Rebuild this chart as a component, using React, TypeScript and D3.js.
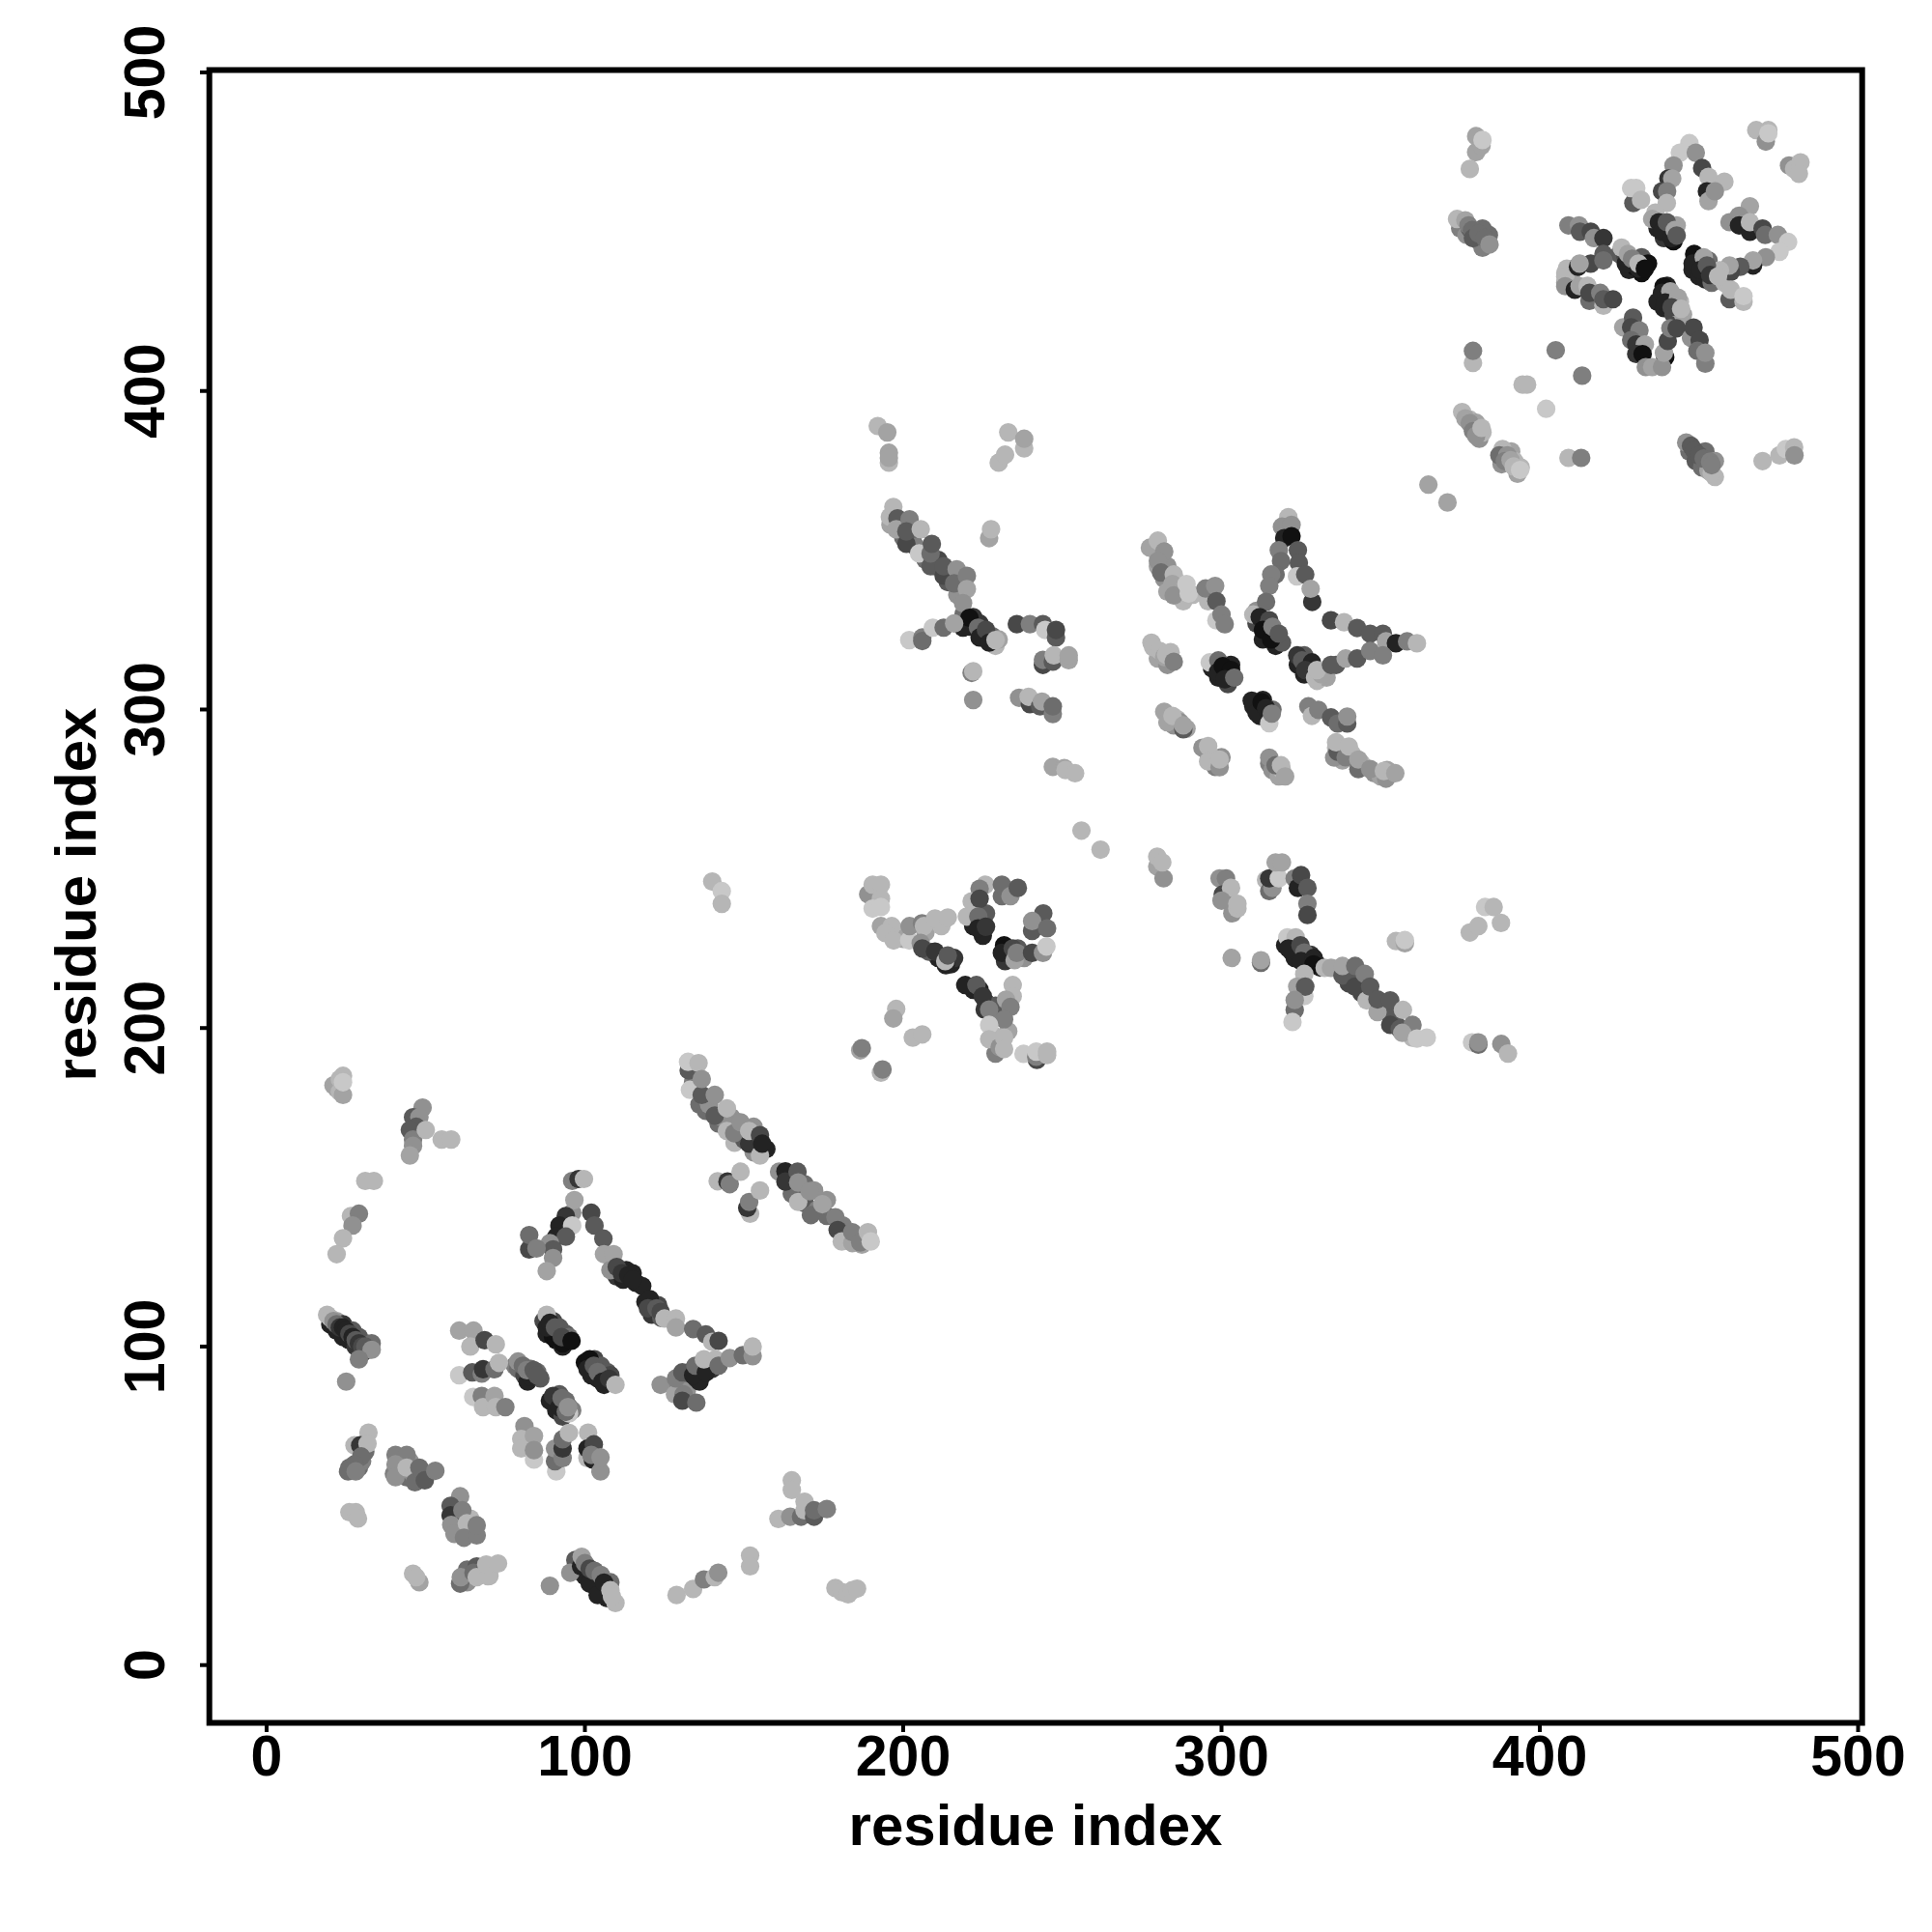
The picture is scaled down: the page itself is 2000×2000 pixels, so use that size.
import React from "react";
import * as d3 from "d3";

type P = [number, number, number];

const xTicks = [0, 100, 200, 300, 400, 500];
const yTicks = [0, 100, 200, 300, 400, 500];
const axisLabel = "residue index";

const bandsFirst: P[] = [
  [20,107,9],[22,105,9],[24,103,9],[26,102,9],[28,100,8],[30,98,7],[22,108,2],[24,107,8],[27,105,6],[29,103,6],[31,101,6],[32,99,7],[33,101,5],
  [87,108,7],[88,104,9],[90,103,10],[91,102,10],[93,100,9],[90,108,7],[92,106,6],[94,104,6],[95,103,5],
  [100,95,10],[102,91,9],[104,90,9],[106,88,9],[103,96,7],[105,94,6],[107,92,6],[108,91,7],
  [78,94,4],[79,93,5],[81,91,7],[82,89,9],[83,93,5],[85,92,5],[86,90,6],
  [89,83,9],[91,80,9],[93,78,7],[92,85,6],[94,83,5],[95,81,5],[96,80,4],
  [109,126,8],[110,122,8],[112,121,9],[113,124,9],[115,123,9],[116,120,9],[118,119,9],
  [119,114,9],[120,112,9],[121,110,8],[123,113,7],[124,109,6],
  [134,183,4],[136,176,5],[138,174,5],[139,176,3],[142,170,5],[143,172,3],[146,172,3],[147,164,1],[150,165,6],[153,161,3],[153,169,3],[157,162,9],[165,152,9],[165,148,5],[169,151,5],[169,145,6],[172,149,3],[173,143,4],[176,146,3],[176,141,5],[181,138,4],[182,134,2],[185,133,2],[187,132,2],[189,134,1],
  [40,60,4],[42,60,4],[44,59,5],[46,60,3],[42,64,1],[45,64,3],[60,44,4],[59,47,8],[62,42,4],[65,42,4],[64,46,1],
  [63,26,3],[63,30,5],[66,31,6],[70,28,1],[97,33,6],[99,29,9],[100,28,9],[102,27,9],[103,25,9],[105,26,8],[106,23,9],[107,21,9],[108,26,5],
  [29,62,5],[30,64,4],[26,62,5],[31,67,5],[129,88,4],[131,87,5],[132,86,3],[135,90,8],[136,89,9],[139,94,8],[140,93,8],[133,92,7],
];
const bandsMiddle: P[] = [
  [196,358,2],[199,357,6],[200,354,5],[203,353,5],[204,351,4],[207,347,5],[210,345,6],[211,347,7],[214,340,6],[215,342,6],[217,336,3],[219,330,5],[221,326,9],[222,329,8],[224,327,8],[226,323,9],[228,323,5],[229,320,1],[230,322,2],
  [199,230,1],[200,228,2],[207,230,2],[212,232,1],[215,220,9],[216,222,8],[211,222,9],[208,224,6],[224,234,6],[226,236,6],[222,232,9],[225,229,9],[233,223,8],[232,221,8],[236,225,6],[238,222,3],[222,212,9],[224,212,9],[226,208,8],[228,204,3],[229,207,6],[233,199,2],[228,198,1],[229,192,4],[242,190,7],
  [320,226,9],[322,224,9],[323,222,9],[327,220,9],[328,223,8],[330,220,10],[331,219,9],[340,214,7],[343,215,6],[344,211,7],[347,210,7],[350,207,7],[352,205,6],[354,204,6],[355,201,6],[358,199,3],[360,197,1],
  [297,313,9],[299,310,9],[301,311,10],[302,308,7],[303,314,9],[310,301,9],[312,298,9],[314,298,9],[313,303,9],[316,300,5],
  [311,327,7],[311,331,3],[313,322,9],[315,325,9],[317,320,9],[319,321,6],[317,324,5],[326,317,6],[324,314,9],[326,311,9],[328,311,9],[330,309,1],[333,310,2],[336,314,6],
  [280,345,2],[282,341,3],[283,337,2],[287,336,2],[280,349,2],[283,345,3],[286,340,2],[288,334,1],[291,336,1],
  [278,321,1],[280,316,2],[283,314,3],[284,318,1],[286,297,1],[287,296,3],[285,295,3],[289,294,2],[296,286,4],[298,282,4],[300,285,3],[297,285,1],
  [315,283,4],[316,281,3],[318,279,2],[319,281,1],[336,288,1],[338,284,2],[341,286,1],[344,283,1],[348,280,3],[350,279,2],[352,281,2],
];
const bandsThird: P[] = [
  [375,451,4],[377,449,3],[378,451,6],[381,447,6],[382,445,4],[384,449,5],[382,451,5],
  [378,391,1],[380,390,2],[381,385,3],[382,387,1],[388,377,3],[391,381,2],[392,378,1],[393,374,2],[394,376,1],
  [447,381,5],[449,378,6],[451,376,5],[453,375,2],[452,381,5],[455,373,1],[455,378,3],
  [437,451,9],[439,448,8],[442,447,10],[440,451,4],[443,452,2],
  [425,443,6],[427,442,7],[428,438,9],[430,439,10],[432,442,6],[434,440,10],[432,437,10],
  [448,438,9],[450,436,9],[452,435,9],[454,434,5],[449,441,10],[453,441,5],[455,437,5],[458,434,1],
  [437,428,9],[439,426,9],[442,424,7],[440,433,9],[444,428,1],[445,424,2],[443,426,2],[408,437,1],[410,437,2],[408,434,2],
];
const lowerLeftFar: P[] = [
  [21,182,2],[22,181,2],[23,180,1],[24,179,2],[23,184,1],[24,185,1],[24,183,0],
  [49,175,3],[46,172,6],[48,172,3],[47,169,6],[45,168,6],[46,165,4],[46,163,3],[45,160,2],[50,168,1],[55,165,1],[58,165,1],
  [31,152,1],[33.7,152,1],[26.5,141,1],[29,141.7,4],[27,138,3],[24,134,1],[22,129,1],
  [19,110,1],[20,109,1],[21,108,3],[22,107,5],[23,106,8],[24,106,9],[25,105,9],[26,104,7],[27,103,9],[28,102,6],[29,101,8],[30,100,7],[31,100,6],[33,99,3],[29,96,4],[25,89,3],
];
const lowerLeftBottom: P[] = [
  [32,73,1],[27.6,69,1],[29.4,69,8],[31.7,69.5,1],[29.7,65.5,5],[27.6,63,5],[25.6,60.8,5],[28,60.8,4],
  [40.5,66,4],[44,66,4],[40.5,63,3],[40.5,59,3],[44,62,1],[46.6,57.4,5],[48,62,5],[49.7,58,6],[53,61,4],
  [60.8,53,3],[57.8,50,6],[57.8,47,8],[61.5,48.6,4],[58,44,3],[59,41.2,3],[62.9,44.5,1],[62,40,4],[66,40.7,4],[66,43.9,4],
  [26,48,1],[28,48,1],[28.7,46,1],
  [48,26,2],[46,28.7,1],[47,27.6,1],
  [60.8,25.6,5],[61,27.6,3],[65,29,5],[68.7,29.6,7],[66,27.6,1],[69.6,27.9,1],[69,31.6,1],[72.7,31.9,1],
  [89,24.9,3],[95.4,29,3],
  [98.8,31,9],[101.5,25.6,9],[104,22,9],[99,34,2],[100,32,4],[101.5,30.3,7],[103,29.6,5],[105,28.3,4],[106,25.9,9],[108,23.5,1],[109.6,19.5,1],[108.5,21.5,1],
  [128.8,22,1],[134,23.9,1],[137.4,26.9,4],[140.8,27.6,1],[141.9,29,3],[151.9,34.4,1],[151.9,31,1],
  [178.7,24.2,1],[180.7,22.9,1],[182.7,22.2,1],[184,23.5,1],[185.5,24,1],
  [165,58,1],[165,55,1],[160.8,45.9,1],[164.5,46.6,3],[167.9,46.6,5],[169,51.3,1],[169,48.6,1],[172,46.6,6],[172,48.6,5],[176,49,4],
];
const firstDomainStar: P[] = [
  [60.5,105,2],[65,105,2],[64,100,1],[68.5,102,7],[72,100.7,1],
  [60.5,91,0],[64.6,91.9,6],[67.6,91.5,4],[68,92.9,8],[71.6,92.9,5],[73,94.9,1],
  [64.9,84.2,0],[67.6,84.5,4],[68,81,1],[71.6,84.5,2],[72,81,1],[75,81,4],
  [79,95.3,3],[80.5,94,5],[83,90.5,9],[81.8,92.6,4],[83.9,92.6,6],[85,91,6],
  [88,110,1],[88,106,9],[89,107.5,9],[90.6,106,6],[93,101,10],[92.7,103,7],[95.8,101.8,10],
  [101.5,96,10],[100.8,93,9],[102.8,94,6],[104,92,5],[105.5,89,9],[107.6,89.9,8],[109.6,88,1],
  [90,84.5,8],[92,81,9],[92.7,83.8,5],[95,79,0],[94,79.5,5],[94.7,81,3],
  [81,75,3],[80,71,1],[84,71.9,2],[80,68,1],[84,64.5,0],[84,67.5,3],
  [91,60.8,0],[90.6,64,5],[90.6,68,3],[93,65,4],[93,68,8],[93,70.9,5],[95,72.9,1],
  [101,73,1],[100.8,65,1],[100.8,68,9],[102.8,69.3,7],[102.5,64.5,9],[102,66,4],[104.9,60.8,3],[104.9,65.2,3],
];
const firstDomainArms: P[] = [
  [96,152,4],[98,152.6,8],[99.7,152.6,1],[96,142,3],[96.7,146,2],[94,141,8],[92,138,9],[96,138,0],[91,134.5,9],[94,134.5,6],
  [89,132.5,3],[90,130.5,6],[82.5,130.5,7],[82.5,135,5],[84.8,130.8,4],[90,127.8,3],[88,123.7,2],
  [102,142,7],[103,138,6],[105.8,133.9,6],[106,129,2],[109,129,2],[108,124,3],[110,125,7],[111.6,123,8],[113.6,122.4,9],[115,121,9],
  [120.4,114.9,9],[119.8,112,7],[122.5,112,6],[123.8,110.9,7],[125,108.8,1],[128.6,108.8,1],[128.6,106,2],[134,105.5,5],[138,103.8,6],[140,101.5,1],[142,101.8,7],
  [123.8,88,3],[128.3,85,2],[131,85,4],[130.6,83,7],[135,82.4,5],[128.6,90,4],[130.6,91.9,6],[134,91,9],[134.7,94,5],[138,91.9,9],[137.4,96,1],[141,96,1],[142,94,5],[145.5,96.4,3],[149.6,97.3,5],[152.7,97,3],[152.7,100,1],
];
const secondDiagonal: P[] = [
  [132.6,186.7,6],[133,180.6,0],[132.4,189.4,0],[135.7,189,1],[136.7,179,6],[136.7,184,3],[140.8,172.5,6],[140.8,179,3],[144.6,167.7,1],[144.6,174.8,1],[146.9,167,4],[148.9,170.4,3],[151.6,163.7,8],[151.6,167.7,1],[155,160,1],[155,166.4,7],[155.7,163.7,9],
  [141.7,151.9,1],[144.8,151.8,8],[145.5,151,4],[148.9,154.9,1],[151.9,141.7,1],[151,143.5,8],[151.6,145.4,4],[155,149,1],
  [161,154.9,3],[163,155,9],[163,151.8,8],[166.8,154.9,6],[167,145.4,1],[167,151.5,3],[170.6,148.8,3],[171,141.3,5],[174.6,144.7,2],[178.7,140.6,4],[179.4,136.6,7],[180.7,133,1],[184,132.5,2],[184,135.9,4],[186.5,132.7,4],[188.9,135.9,1],[189.8,133,0],
  [186.5,193,2],[187,193.7,4],[193,186,1],[193.5,187,4],[197.8,206,1],[196.9,203,2],[203,197,1],[206,198,1],
  [140,246,1],[143,243,0],[143,239,1],
];
const middleLoop: P[] = [
  [189,242,3],[190.4,245,1],[193,245,1],[193,240.6,1],[190.4,237.5,0],[193,238,0],
  [193,232,2],[196.4,232,1],[194.4,229.8,1],[197,227.5,1],[201.9,227.5,0],[202,232,3],[205.9,232.9,4],[206.5,232,1],[210,234.4,1],[214,234.7,1],[205.5,226.7,3],[206,225,7],[210,224,8],[213.4,219.7,9],[213.2,221,1],[214,222.8,6],
  [225.8,245,1],[224,243.7,4],[221.5,239.8,1],[224,240.6,7],[220,235,1],[223.6,235,5],[223.5,231.3,9],[226,231.8,8],
  [231,241.4,5],[231,245,5],[233.7,241.4,3],[236,244,6],
  [244,236,6],[240.5,230.5,6],[240.5,233.6,3],[245.2,231.3,5],
  [231.7,226,10],[231,223.6,9],[234.4,225,7],[235,221.3,2],[235.7,223.6,4],[240.5,223.6,7],[243.9,223.6,3],[245,225.6,0],
  [219.5,213.5,9],[223,213.5,6],[225,210,8],[225.6,205.8,8],[227,205.8,4],
  [234.4,213.5,1],[234.4,210,1],[232.3,208.9,2],[233.7,206.6,4],[231.7,202.7,4],[227,201,0],[227,196.5,1],[230.3,194,3],[231.7,197,1],[231.7,193.4,1],
  [237.8,191.9,0],[241.8,191,4],[241.8,192.6,0],[245.2,191.5,1],[245.2,192.6,1],
];
const upperMiddle: P[] = [
  [192,389,1],[195,387,2],[195.5,377.5,1],[195.5,380.6,2],[195.5,379,2],
  [233,387,1],[238,382,1],[238,385,2],[230,377.5,1],[232,380,1],
  [227,353.8,2],[227.6,356.6,1],
  [195.8,360.5,1],[196.9,363.6,1],[198.2,360,6],[197.8,356.6,2],[202,359.7,4],[201,352,7],[201,355.9,6],[205,349,0],[205.5,356.6,1],[208.6,345,6],[208.6,349,5],[209,352,6],[212.7,342,7],[212.7,345,6],[216.8,344,3],[216,339.6,5],[220,342,4],[220,337.8,2],[218.8,333.4,3],
  [217.5,327,5],[218.8,325.7,9],[220.8,328.8,10],[223.5,325.7,5],[224,322.6,9],[226,325,7],[227,321,9],[229,321.8,1],
  [201.9,321.8,0],[206,322.6,4],[206,321.5,5],[209.3,325.7,0],[212.7,325.7,5],[216,327,2],
  [235.7,326.8,7],[239.8,326.8,4],[243.9,326.8,6],[244.6,325,0],[248,322.6,6],[248,325,7],[243.9,314,7],[243.9,315.6,4],[247,315,6],[247.3,317,1],[252,315.5,2],[252,317,2],
  [221.5,311.5,4],[222,312,1],[222,303,3],
  [236.4,303.7,3],[239.8,301.7,7],[239.4,304,1],[243,301,6],[243.6,302.5,2],[247,298.6,4],[247,301,5],
  [247,282,2],[250.6,281.6,2],[251,281,1],[254,280,1],[256,262,1],[262,256,1],
];
const secondStar: P[] = [
  [277.5,350.8,2],[280,353,1],[282,349.6,3],[280,346.6,3],[281,343,5],[285,342.4,1],[284.6,339.4,2],[285,335.8,3],[289.7,336.4,0],[289,339.4,0],
  [295.8,334,1],[295,338,4],[298,338.8,3],[298.4,334,6],[298.4,328,0],[300,329.8,4],[301,326.8,4],
  [321,360.4,1],[319,357.4,3],[322,358,3],[319.7,353.8,9],[322,354.4,10],[318,350,4],[324,350,6],[318.7,346.6,5],[324.3,346,6],[323.7,341.8,0],[326.3,342.4,6],[317,342.4,5],[315.6,342.4,4],[315,338.8,4],[328.5,333.8,8],[328,337.9,2],[314,333.8,5],
  [310,329.8,1],[312,329,9],[315,328,7],[313,325,10],[315.6,322,10],[316,326,4],[318,323.8,6],
  [334.4,328,7],[338.5,327.4,1],[342.6,325.6,6],[346.7,323.8,6],[350.7,323.8,6],[351.7,321.4,2],[354.8,320.8,9],[358.3,321.4,4],[361.4,320.8,1],
  [323.8,317,8],[325.3,315.4,6],[328.4,314.8,9],[326.3,312.4,8],[329.4,310,1],[331.4,311,2],[330,312.4,1],[334.4,314,6],[339,316,2],[342.6,316,6],[346.7,318.4,4],[350.7,317,4],
  [278.5,319.6,1],[280.6,318.4,1],[282,316.5,2],[282.6,317.2,1],[285,315,4],
  [296.3,314.8,0],[299,315.4,5],[298.9,311.8,9],[300.4,313.6,10],[303,312.4,10],[301,309.5,9],[304,310,5],
  [309.5,302.8,9],[311,299,9],[312.6,302.3,10],[314,300.4,9],[315,295.7,0],[315.8,298.7,4],
  [282,299.3,2],[283,296,2],[284.6,298,1],[288,293.8,6],[288,295,2],
  [294,288,3],[295.8,288.5,1],[295.8,283.7,1],[299.4,281.9,3],[299.4,284.3,1],
  [315,284.9,3],[317,282.5,5],[318.7,282.5,1],[320,279,2],
  [327.3,301,4],[328.4,298,1],[330.4,299.9,4],[334.4,297.5,6],[336.5,295.6,5],[339.5,295.6,6],[339.5,297.8,3],
  [335.4,284.9,3],[336.5,286.7,6],[336,289.7,1],[339,285,4],[340,288.4,1],[343,281.3,5],[343,284.3,2],[346.7,281.3,3],[351.7,278.3,3],[351,280.7,1],[354.6,280,2],
];
const lowerRightStar: P[] = [
  [279.8,250.7,2],[281.8,247,3],[279.8,253.8,1],[281.4,252,1],
  [299.4,247,3],[301.4,247,4],[300.4,242,7],[303,244,1],[300,240,3],[303.4,236,3],[305,237.5,1],[305,239,1],
  [314,246.5,1],[315,243,5],[316,244,3],[315,247,8],[318,247,0],[317,252,2],[319,252,2],
  [323,247,4],[324,244,9],[325,248,7],[327,244,6],[327,239,4],[327,235.5,7],
  [303.2,222,2],[312.4,220.5,5],[312.4,221.3,2],
  [320.7,228.5,0],[323.3,228.5,1],[321,225,9],[324.8,226,7],[326,223.7,5],[325,221,9],[329,222,9],[328.9,220,10],
  [326,217,1],[323.8,213,2],[326,210,0],[326.3,213,6],[323,205.7,5],[323,208.8,3],[322.3,201.9,0],
  [332.4,218.9,1],[334.4,218.9,2],[338,216.5,6],[338,219.5,2],[342,213,7],[342,219.5,5],[345,217,4],[345.6,208.7,1],[346.7,213,6],[349,205,2],[349,209,6],[353,201,7],[353,208.7,6],[356,199.7,6],[357,205.7,1],[360,201,4],[356.8,198.5,2],[361.4,196.7,0],[364.5,197,0],
  [378.7,195.5,0],[380.7,194.8,5],[380.7,195.5,3],[387.9,195,3],[390,192,1],
  [354.8,227.3,1],[357.6,226.6,2],[357.6,227.6,0],
  [378,230,1],[380.7,232,1],[382.8,238,0],[385.5,238,1],[387.8,233,1],
];
const thirdFlanks: P[] = [
  [380,480,2],[380,475,2],[381.7,477,2],[382,478.8,0],[378,469.7,1],
  [374,454,1],[376.6,453.6,2],[377.6,452,4],[378.7,450.5,5],[379,448,6],[380.7,449.5,5],[382.7,448,5],[384.2,446,3],
  [379,408.8,1],[379,412.6,4],[405,412.8,4],[413.3,404.8,4],[394.6,402,1],[396,402,1],[402,394.4,0],
  [375.6,393.4,1],[376.6,391.4,2],[378,389.9,3],[379,387.4,4],[380,386,3],[381.7,388.4,1],
  [388.3,381.8,1],[387.3,379.8,5],[389.8,379.8,3],[389,378,4],[390.8,378.3,2],[391.8,376.3,1],[393.8,375.2,0],
  [365,370.6,2],[371,365,2],[409,379,1],[413,379,4],
  [446,383.8,3],[447.5,382.8,6],[448.5,381.3,6],[450,379.8,6],[451.5,378.8,5],[454,374.2,1],[453.5,377.8,4],[454,376.7,4],
  [470,378,1],[475.3,379.8,1],[477.3,381.8,0],[479.9,382.3,1],[480,379.8,3],
  [468,481.9,1],[471,478.3,3],[471.8,481.9,1],[471.8,480.9,0],
  [478.3,470.8,3],[479.9,469.7,1],[481.9,471.8,1],[481.4,468.2,1],
];
const thirdCross: P[] = [
  [447,477.8,0],[444,474.8,0],[449,474.8,3],[442,470.8,3],[451,470,7],[440.4,466.7,8],[441.6,466.7,2],[453,467.2,1],[458,465.7,1],[438.4,462.7,7],[440,462.7,4],[452.5,462.7,9],[453,459.6,2],[455,462.7,3],[439.9,459,1],
  [429.4,459,6],[428.7,463.7,0],[430.3,463.7,0],[431.8,460,1],[436.3,456,1],[435.3,454,2],[437.4,453,9],[438.4,450,9],[439.9,453,6],[441.4,448,9],[442.4,450.5,2],[443,448.8,6],
  [466,458,2],[459.6,453,3],[462.6,455,3],[462.6,452,9],[466,450,9],[466,453,1],[470,451,7],[470.8,449,5],[474.8,449,3],[478,446.8,0],[475.3,443.7,0],[471,442,3],[467,439.4,9],[467,441,2],[463,439,6],[460,437.4,7],[459.6,439.4,2],[456.6,437.9,1],
  [448.5,443,10],[448,440,9],[451.5,442,2],[450.5,438,9],[452.5,439.4,6],[453.5,436.4,8],[456,436,1],[459.6,428.8,6],[460,431.8,1],[464,428,1],[464,429.8,0],
  [409,452,4],[412.3,452,3],[412.6,450,6],[416,450,7],[417,448,3],[420,448,8],[420,443,6],[416,440,7],[420,441,5],[425.7,445,1],[427,440,9],[427.7,443,2],[429,441.5,4],[431,438.5,9],[431,440,1],[433,438.4,10],
  [408.5,438.4,1],[408,435.9,1],[408,432.9,3],[412,439,9],[412.5,440,2],[411,431.8,9],[412.5,432.9,2],[415,433,1],[415.6,428.3,5],[415.6,430.8,7],[419,430.8,4],[420,426.8,1],[420,428.8,6],[423,428.8,7],
  [438.9,432.8,10],[438.4,430.8,9],[441,431.3,2],[439.4,427.8,9],[443.4,429.3,2],[441.4,426.3,7],[444.4,425.8,1],
  [426.2,420,2],[429.3,423,6],[428.7,420,7],[431.3,419,4],[428.7,416,5],[430.3,414.6,8],[433,414.6,2],[430.3,411.6,8],[432.3,411.6,10],[439.4,410.6,10],[433.3,407.5,3],[435.3,407.5,2],[438.4,407.5,3],[439,412,2],[440.2,415.7,7],[441,419.7,4],[443,419.7,7],[447.5,416.7,3],[448.3,419.9,7],[450.2,416,7],[449.5,412.6,5],[452,408.6,4],[452,412,3],
];

const allPoints: P[] = [
  ...bandsFirst, ...bandsMiddle, ...bandsThird,
  ...lowerLeftFar, ...lowerLeftBottom, ...firstDomainStar, ...firstDomainArms, ...secondDiagonal,
  ...middleLoop, ...upperMiddle, ...secondStar, ...lowerRightStar, ...thirdFlanks, ...thirdCross,
];

const x = d3.scaleLinear().domain([0, 500]).range([276, 1923.5]);
const y = d3.scaleLinear().domain([0, 500]).range([1723.7, 75]);
const shade = d3.scaleLinear<number>().domain([0, 10]).range([200, 17]);
const FONT = "'Liberation Sans', Arial, sans-serif";

export default function App() {
  return (
    <svg width={2000} height={2000} viewBox="0 0 2000 2000" style={{ position: "absolute", left: 0, top: 0, display: "block", background: "#fff" }}>
      <g>
        {allPoints.map(([a, b, w], i) => {
          const g = Math.round(shade(w));
          return <circle key={i} cx={x(a)} cy={y(b)} r={9.6} fill={`rgb(${g},${g},${g})`} />;
        })}
      </g>
      <rect x={216.7} y={72.5} width={1711} height={1711} fill="none" stroke="#000" strokeWidth={6} />
      {xTicks.map((t) => (
        <g key={`x${t}`}>
          <line x1={x(t)} x2={x(t)} y1={1783} y2={1793} stroke="#000" strokeWidth={4} />
          <text x={x(t)} y={1838} textAnchor="middle" fontFamily={FONT} fontWeight={700} fontSize={59} fill="#000">{t}</text>
        </g>
      ))}
      {yTicks.map((t) => (
        <g key={`y${t}`}>
          <line x1={207} x2={217} y1={y(t)} y2={y(t)} stroke="#000" strokeWidth={4} />
          <text transform={`translate(170,${y(t)}) rotate(-90)`} textAnchor="middle" fontFamily={FONT} fontWeight={700} fontSize={59} fill="#000">{t}</text>
        </g>
      ))}
      <text x={1072} y={1910} textAnchor="middle" fontFamily={FONT} fontWeight={700} fontSize={60} fill="#000">{axisLabel}</text>
      <text transform="translate(99,926) rotate(-90)" textAnchor="middle" fontFamily={FONT} fontWeight={700} fontSize={60} fill="#000">{axisLabel}</text>
    </svg>
  );
}
